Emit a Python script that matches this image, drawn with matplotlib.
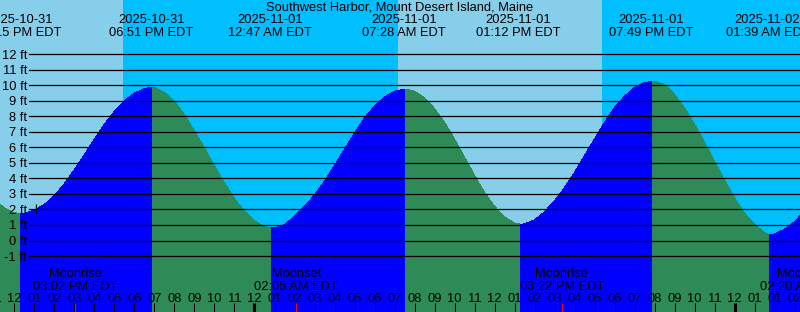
import numpy as np
import matplotlib
matplotlib.use('Agg')
from matplotlib import pyplot as plt
from matplotlib import transforms

plt.rcParams['font.family'] = ['Liberation Sans', 'DejaVu Sans']

# all times: hours since 2025-10-31 00:00 EDT
title = 'Southwest Harbor, Mount Desert Island, Maine'

# tide height (ft)
tide_hours = [11.0, 11.5, 12.0, 12.3, 12.5, 13.0, 13.5, 14.0, 14.5, 15.0, 15.5, 16.0, 16.5,
              17.0, 17.5, 18.0, 18.5, 18.9, 19.0, 19.5, 20.0, 20.5, 21.0, 21.5, 22.0, 22.5,
              23.0, 23.5, 24.0, 24.5, 24.85, 25.0, 25.5, 26.0, 26.5, 27.0, 27.5, 28.0, 28.5,
              29.0, 29.5, 30.0, 30.5, 31.0, 31.55, 32.0, 32.5, 33.0, 33.5, 34.0, 34.5, 35.0,
              35.5, 36.0, 36.5, 37.0, 37.3, 37.5, 38.0, 38.5, 39.0, 39.5, 40.0, 40.5, 41.0,
              41.5, 42.0, 42.5, 43.0, 43.5, 43.9, 44.0, 44.5, 45.0, 45.5, 46.0, 46.5, 47.0,
              47.5, 48.0, 48.5, 49.0, 49.5, 49.75, 50.0, 50.5, 51.0, 51.5]
tide_ft = [2.66, 2.08, 1.79, 1.74, 1.76, 1.96, 2.33, 2.9, 3.68, 4.58, 5.55, 6.55, 7.5,
           8.33, 9.02, 9.5, 9.8, 9.87, 9.86, 9.55, 8.95, 8.1, 7.05, 5.95, 4.8, 3.7,
           2.7, 1.88, 1.27, 0.89, 0.81, 0.82, 1.02, 1.55, 2.2, 2.93, 3.83, 4.83, 5.88,
           6.93, 7.9, 8.68, 9.25, 9.62, 9.76, 9.62, 9.2, 8.5, 7.62, 6.53, 5.37, 4.2,
           3.1, 2.2, 1.52, 1.12, 1.05, 1.07, 1.32, 1.85, 2.55, 3.4, 4.4, 5.46, 6.55,
           7.62, 8.57, 9.3, 9.87, 10.18, 10.26, 10.25, 10.05, 9.42, 8.55, 7.5, 6.33, 5.1,
           3.9, 2.75, 1.75, 1.05, 0.5, 0.38, 0.42, 0.72, 1.2, 1.9]

# high / low tide labels
event_hours = [12.25, 18.85, 24.783, 31.467, 37.2, 43.817, 49.65]
event_dates = ['2025-10-31', '2025-10-31', '2025-11-01', '2025-11-01', '2025-11-01',
               '2025-11-01', '2025-11-02']
event_times = ['12:15 PM EDT', '06:51 PM EDT', '12:47 AM EDT', '07:28 AM EDT',
               '01:12 PM EDT', '07:49 PM EDT', '01:39 AM EDT']

# moon rise / set
moon_hours = [15.033, 26.083, 39.367, 51.333]
moon_names = ['Moonrise', 'Moonset', 'Moonrise', 'Moonset']
moon_times = ['03:02 PM EDT', '02:05 AM EDT', '03:22 PM EDT', '02:20 AM EST']

# daylight periods (sunrise, sunset)
day_spans = [(5.0, 17.425), (31.175, 41.375)]

# hour axis (local clock, DST ends 2025-11-02)
tick_hours = list(range(11, 52))
tick_labels = ['11', '12', '01', '02', '03', '04', '05', '06', '07', '08', '09', '10', '11',
               '12', '01', '02', '03', '04', '05', '06', '07', '08', '09', '10', '11',
               '12', '01', '02', '03', '04', '05', '06', '07', '08', '09', '10', '11',
               '12', '01', '01', '02']
midnight_hours = [24, 48]

depth_levels = list(range(-1, 13))
mark_hour, mark_ft = 13.1, 2.0

day_color = '#87CEEB'
night_color = '#00BFFF'
flood_color = '#0000FF'
ebb_color = '#2E8B57'

W, H = 800, 312
fig = plt.figure(figsize=(W / 100, H / 100), dpi=100)
ax = fig.add_axes([0, 0, 1, 1])
ax.set_axis_off()
t0 = 11.275
ax.set_xlim(t0, t0 + 40)
ax.set_ylim(-(H - 240.5) / 15.515, 240.5 / 15.515)

# background: night everywhere, day bands on top
ax.axvspan(0, 60, color=night_color, lw=0, zorder=0)
for a, b in day_spans:
    ax.axvspan(a, b, color=day_color, lw=0, zorder=0.5)

# tide fill, blue while rising, green while falling
t = np.array(tide_hours)
h = np.array(tide_ft)
rising = np.diff(h) > 0
start = 0
for i in range(1, len(rising) + 1):
    if i == len(rising) or rising[i] != rising[start]:
        ax.fill_between(t[start:i + 1], h[start:i + 1], -20,
                        color=flood_color if rising[start] else ebb_color,
                        lw=0, antialiased=False, zorder=1)
        start = i

# depth lines and labels
fs = 9.3
ylab_tr = transforms.offset_copy(ax.get_yaxis_transform(), fig, y=-4.5, units='dots')
for v in depth_levels:
    ax.axhline(v, xmin=29 / W, xmax=1, color='black', lw=0.9, zorder=2)
    ax.text(27 / W, v, f'{v} ft', transform=ylab_tr, ha='right', va='baseline',
            fontsize=fs, zorder=3)

ax.plot([mark_hour], [mark_ft], marker='|', color='black', ms=7, mew=0.9, zorder=3)

xt = ax.get_xaxis_transform()

# title and tide event labels
ax.text(0.5, 1 - 10.5 / H, title, transform=ax.transAxes, ha='center', va='baseline', fontsize=fs)
for x, d, tm in zip(event_hours, event_dates, event_times):
    ax.text(x, 1 - 23.3 / H, d, transform=xt, ha='center', va='baseline', fontsize=fs)
    ax.text(x, 1 - 36 / H, tm, transform=xt, ha='center', va='baseline', fontsize=fs)

# moon labels
for x, n, tm in zip(moon_hours, moon_names, moon_times):
    ax.text(x, 1 - 277.3 / H, n, transform=xt, ha='center', va='baseline', fontsize=fs)
    ax.text(x, 1 - 290 / H, tm, transform=xt, ha='center', va='baseline', fontsize=fs)

# hour ticks
for x, lab in zip(tick_hours, tick_labels):
    ax.text(x, 1 - 301.7 / H, lab, transform=xt, ha='center', va='baseline', fontsize=fs)
normal = [x for x in tick_hours if x not in midnight_hours]
ax.vlines(normal, 0, 9 / H, transform=xt, color='black', lw=0.75, zorder=3)
ax.vlines(midnight_hours, 0, 9 / H, transform=xt, color='black', lw=2.2, zorder=3)
ax.vlines(moon_hours, 0, 9 / H, transform=xt, color='red', lw=0.75, zorder=3)

fig.savefig('out.png', dpi=100)
